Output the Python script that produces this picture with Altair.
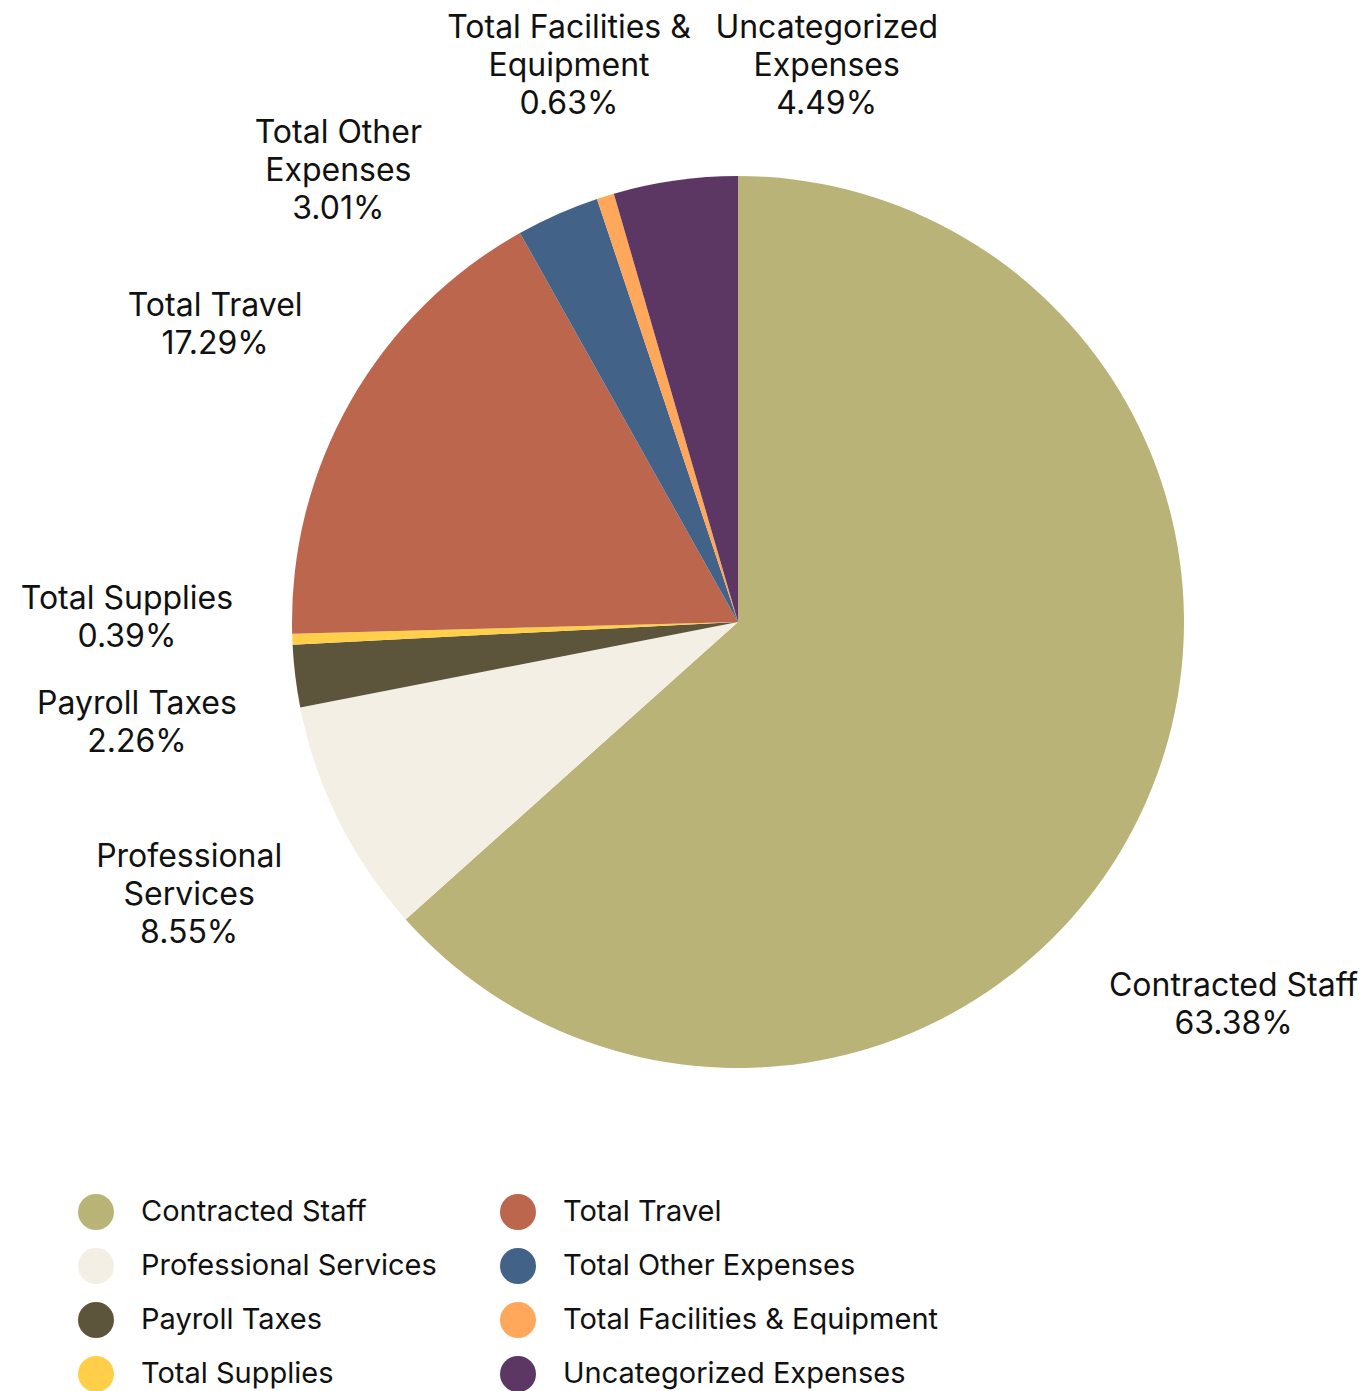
import math
import textwrap
import altair as alt
import pandas as pd

# ---------------- data ----------------
categories = [
    "Contracted Staff",
    "Professional Services",
    "Payroll Taxes",
    "Total Supplies",
    "Total Travel",
    "Total Other Expenses",
    "Total Facilities & Equipment",
    "Uncategorized Expenses",
]
percents = [63.38, 8.55, 2.26, 0.39, 17.29, 3.01, 0.63, 4.49]
colors = ["#BAB378", "#F3EFE5", "#5C553C", "#FFCF4A",
          "#BD664E", "#426287", "#FFA75A", "#5D3763"]

# ---------------- layout parameters ----------------
W, H = 1356, 1375          # chart size (page minus 8px margin)
CX, CY = 730, 614          # pie centre in chart coords
R_PIE = 446
R_LAB = 506                # nearest edge of label box from centre
FONT = "Inter"
FS_LABEL = 32
LINE_H = 38
FS_LEGEND = 29
GAP = 28
TOP = 1                    # top limit for label boxes
RIGHT = W - 8              # right limit for label boxes
LEFT = 0

CW = {" ": .28, "%": .87, ".": .27, "&": .68,
      "C": .74, "T": .66, "P": .65, "S": .64, "E": .58, "U": .73,
      "F": .57, "I": .27,
      "a": .55, "b": .6, "c": .55, "d": .6, "e": .57, "f": .36, "g": .6,
      "i": .25, "l": .25, "m": .88, "n": .59, "o": .6, "p": .6, "q": .6,
      "r": .38, "s": .52, "t": .36, "u": .59, "v": .54, "x": .52,
      "y": .54, "z": .52}


def text_w(s):
    return sum(CW.get(c, .6) for c in s) * FS_LABEL * 0.975


labels, widths, heights, nlines, mids = [], [], [], [], []
cum = 0.0
total = sum(percents)
for name, v in zip(categories, percents):
    lines = textwrap.wrap(name, 18) + [f"{v:.2f}%"]
    labels.append("\n".join(lines))
    widths.append(max(text_w(l) for l in lines))
    heights.append(len(lines) * LINE_H)
    nlines.append(len(lines))
    a = (cum + v / 2) / total * 360.0
    if a >= 180:
        a -= 360
    mids.append(a)
    cum += v


def centre(a, w, h):
    """Box centre for a label at angle a (clamped to the top limit)."""
    r = math.radians(a)
    sx, sy = math.sin(r), -math.cos(r)
    d = R_LAB + abs(sx) * w / 2 + abs(sy) * h / 2
    x, y = CX + d * sx, CY + d * sy
    y = max(y, TOP + h / 2)
    return x, y


def side_violation(a, w, h):
    x, _ = centre(a, w, h)
    return max(0, LEFT - (x - w / 2)) + max(0, (x + w / 2) - RIGHT)


n = len(categories)
ang = list(mids)
step = 0.1
for _ in range(20000):
    moved = False
    pos = [centre(ang[k], widths[k], heights[k]) for k in range(n)]
    delta = [0.0] * n
    for i in range(n):
        for j in range(i + 1, n):
            dx = abs(pos[i][0] - pos[j][0])
            dy = abs(pos[i][1] - pos[j][1])
            if (dx < (widths[i] + widths[j]) / 2 + GAP and
                    dy < (heights[i] + heights[j]) / 2 + GAP):
                lo, hi = (i, j) if ang[i] < ang[j] else (j, i)
                delta[lo] -= step
                delta[hi] += step
                moved = True
    for i in range(n):
        ang[i] += max(-step, min(step, delta[i]))
    # keep labels inside the left/right edges by turning them
    for i in range(n):
        v0 = side_violation(ang[i], widths[i], heights[i])
        while v0 > 1e-9:
            vp = side_violation(ang[i] + step, widths[i], heights[i])
            vm = side_violation(ang[i] - step, widths[i], heights[i])
            ang[i] += step if vp < vm else -step
            v0 = min(vp, vm)
            moved = True
    if not moved:
        break

lx, ly = [], []
for i in range(n):
    x, y = centre(ang[i], widths[i], heights[i])
    lx.append(x)
    # first line sits at y, following lines go downward
    ly.append(y - (nlines[i] - 1) * LINE_H / 2)

df = pd.DataFrame({
    "category": categories,
    "percent": percents,
    "order": list(range(n)),
    "label": labels,
    "lx": lx,
    "ly": ly,
})

color = alt.Color(
    "category:N",
    scale=alt.Scale(domain=categories, range=colors),
    legend=alt.Legend(
        orient="none",
        legendX=70,
        legendY=1186,
        columns=2,
        title=None,
        symbolType="circle",
        symbolSize=1296,
        symbolStrokeWidth=0,
        symbolOpacity=1,
        labelFont=FONT,
        labelFontSize=FS_LEGEND,
        labelColor="#111111",
        labelOffset=27,
        labelLimit=600,
        rowPadding=18,
        columnPadding=63,
        padding=0,
    ),
)

pie = alt.Chart(df).mark_arc(outerRadius=R_PIE, strokeWidth=0).encode(
    theta=alt.Theta("percent:Q", stack=True),
    order=alt.Order("order:Q"),
    color=color,
    x=alt.value(CX),
    y=alt.value(CY),
)

text = alt.Chart(df).mark_text(
    font=FONT,
    fontSize=FS_LABEL,
    lineHeight=LINE_H,
    lineBreak="\n",
    align="center",
    baseline="middle",
    color="#111111",
).encode(
    x=alt.X("lx:Q", scale=None),
    y=alt.Y("ly:Q", scale=None),
    text="label:N",
)

chart = alt.layer(pie, text).properties(
    width=W, height=H, padding=0
).configure(background="white").configure_view(stroke=None)

chart.save("out.html", embed_options={"renderer": "svg", "actions": False})
